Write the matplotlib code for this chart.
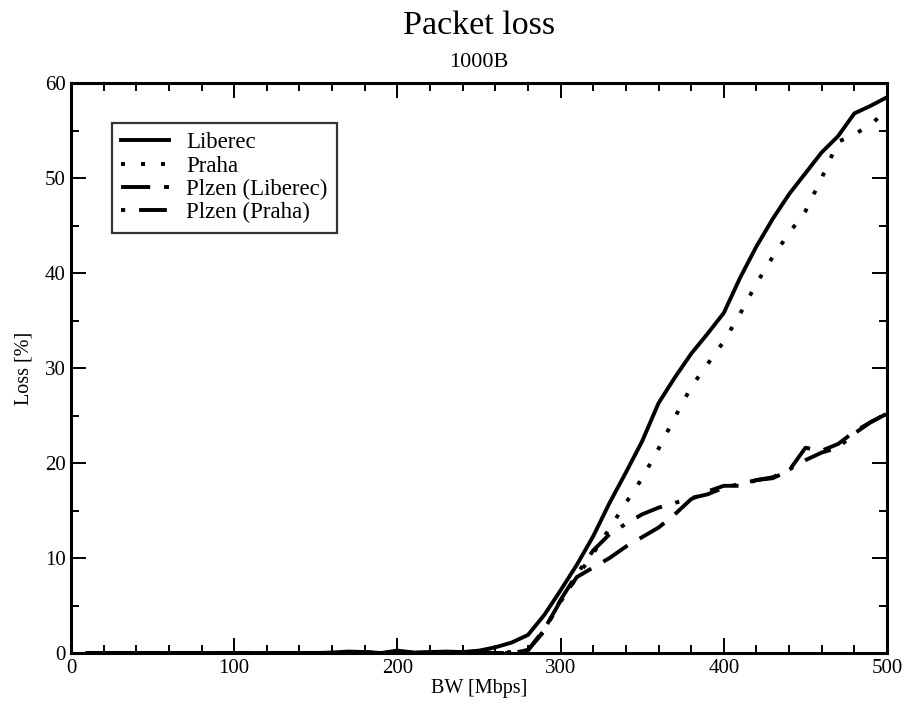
#!/usr/bin/env python3
"""Packet loss vs bandwidth, 1000B packets."""
import matplotlib
matplotlib.use("Agg")
import matplotlib.pyplot as plt
from matplotlib.ticker import MultipleLocator

bw = [10, 20, 30, 40, 50, 60, 70, 80, 90, 100,
      110, 120, 130, 140, 150, 160, 170, 180, 190, 200,
      210, 220, 230, 240, 250, 260, 270, 280, 290, 300,
      310, 320, 330, 340, 350, 360, 370, 380, 390, 400,
      410, 420, 430, 440, 450, 460, 470, 480, 490, 500]

liberec = [0, 0, 0, 0, 0, 0, 0, 0, 0, 0,
           0, 0, 0, 0, 0, 0.05, 0.15, 0.1, 0.0, 0.25,
           0.05, 0.1, 0.15, 0.1, 0.25, 0.6, 1.1, 1.9, 4.0, 6.6,
           9.3, 12.3, 15.8, 19.0, 22.3, 26.3, 29.0, 31.5, 33.6, 35.8,
           39.5, 42.8, 45.7, 48.3, 50.5, 52.7, 54.4, 56.8, 57.6, 58.5]

praha = [0, 0, 0, 0, 0, 0, 0, 0, 0, 0,
         0, 0, 0, 0, 0, 0, 0.05, 0.05, 0, 0.2,
         0, 0.05, 0.05, 0, 0.05, 0.05, 0.1, 0.3, 2.4, 5.4,
         8.0, 10.5, 13.1, 15.8, 18.4, 21.5, 24.8, 28.0, 30.4, 32.8,
         35.7, 38.9, 41.7, 44.2, 46.5, 50.0, 53.8, 54.6, 55.6, 57.2]

plzen_liberec = [0, 0, 0, 0, 0, 0, 0, 0, 0, 0,
                 0, 0, 0, 0, 0, 0, 0.05, 0.05, 0, 0.15,
                 0, 0.05, 0.05, 0, 0, 0, 0, 0.3, 2.5, 5.5,
                 8.0, 9.0, 10.0, 11.2, 12.2, 13.2, 14.6, 16.2, 17.0, 17.6,
                 17.6, 18.2, 18.4, 19.2, 21.6, 21.3, 22.0, 23.3, 24.3, 25.2]

plzen_praha = [0, 0, 0, 0, 0, 0, 0, 0, 0, 0,
               0, 0, 0, 0, 0, 0, 0.05, 0.05, 0, 0.15,
               0, 0.05, 0.05, 0, 0, 0, 0, 0.3, 2.3, 5.6,
               8.3, 10.8, 12.5, 13.6, 14.6, 15.3, 15.8, 16.3, 16.7, 17.4,
               17.8, 18.2, 18.5, 19.3, 20.3, 21.1, 21.6, 23.1, 24.3, 25.2]

series = [
    ("Liberec", liberec, "-"),
    ("Praha", praha, (0, (2.9, 11.5))),
    ("Plzen (Liberec)", plzen_liberec, (0, (21, 10))),
    ("Plzen (Praha)", plzen_praha, (0, (3, 10, 20, 10))),
]

plt.rcParams["font.family"] = ["Liberation Serif", "DejaVu Serif"]
plt.rcParams["lines.scale_dashes"] = False

fig = plt.figure(figsize=(9.09, 7.13), dpi=100)
ax = fig.add_axes([71 / 909, 60 / 713, 816 / 909, 570 / 713])

for label, ys, ls in series:
    ax.plot(bw, ys, color="black", lw=2.8, linestyle=ls, label=label,
            dash_capstyle="butt", solid_joinstyle="miter")

ax.set_xlim(0, 500)
ax.set_ylim(0, 60)
ax.xaxis.set_major_locator(MultipleLocator(100))
ax.xaxis.set_minor_locator(MultipleLocator(20))
ax.yaxis.set_major_locator(MultipleLocator(10))
ax.yaxis.set_minor_locator(MultipleLocator(5))
ax.tick_params(which="both", direction="in", top=True, right=True, width=1.4)
ax.tick_params(which="major", length=10.8, labelsize=15, pad=4)
ax.tick_params(which="minor", length=5.8)
for sp in ax.spines.values():
    sp.set_linewidth(2.2)

ax.set_xlabel("BW [Mbps]", fontsize=14.5, labelpad=1)
ax.set_ylabel("Loss [%]", fontsize=14.5, labelpad=8)

fig.text(0.5 * (71 + 887) / 909, 1 - 34 / 713, "Packet loss", ha="center",
         va="baseline", fontsize=24.5)
fig.text(0.5 * (71 + 887) / 909, 1 - 67 / 713, "1000B", ha="center",
         va="baseline", fontsize=16)

leg = ax.legend(loc="upper left", bbox_to_anchor=(41 / 816, 1 - 40 / 570),
                fontsize=16.5, frameon=True, fancybox=False, handlelength=2.1,
                handletextpad=0.75, labelspacing=0.1, borderpad=0.4,
                borderaxespad=0)
leg.get_frame().set_edgecolor("black")
leg.get_frame().set_linewidth(1.6)

fig.savefig("out.png", dpi=100)
